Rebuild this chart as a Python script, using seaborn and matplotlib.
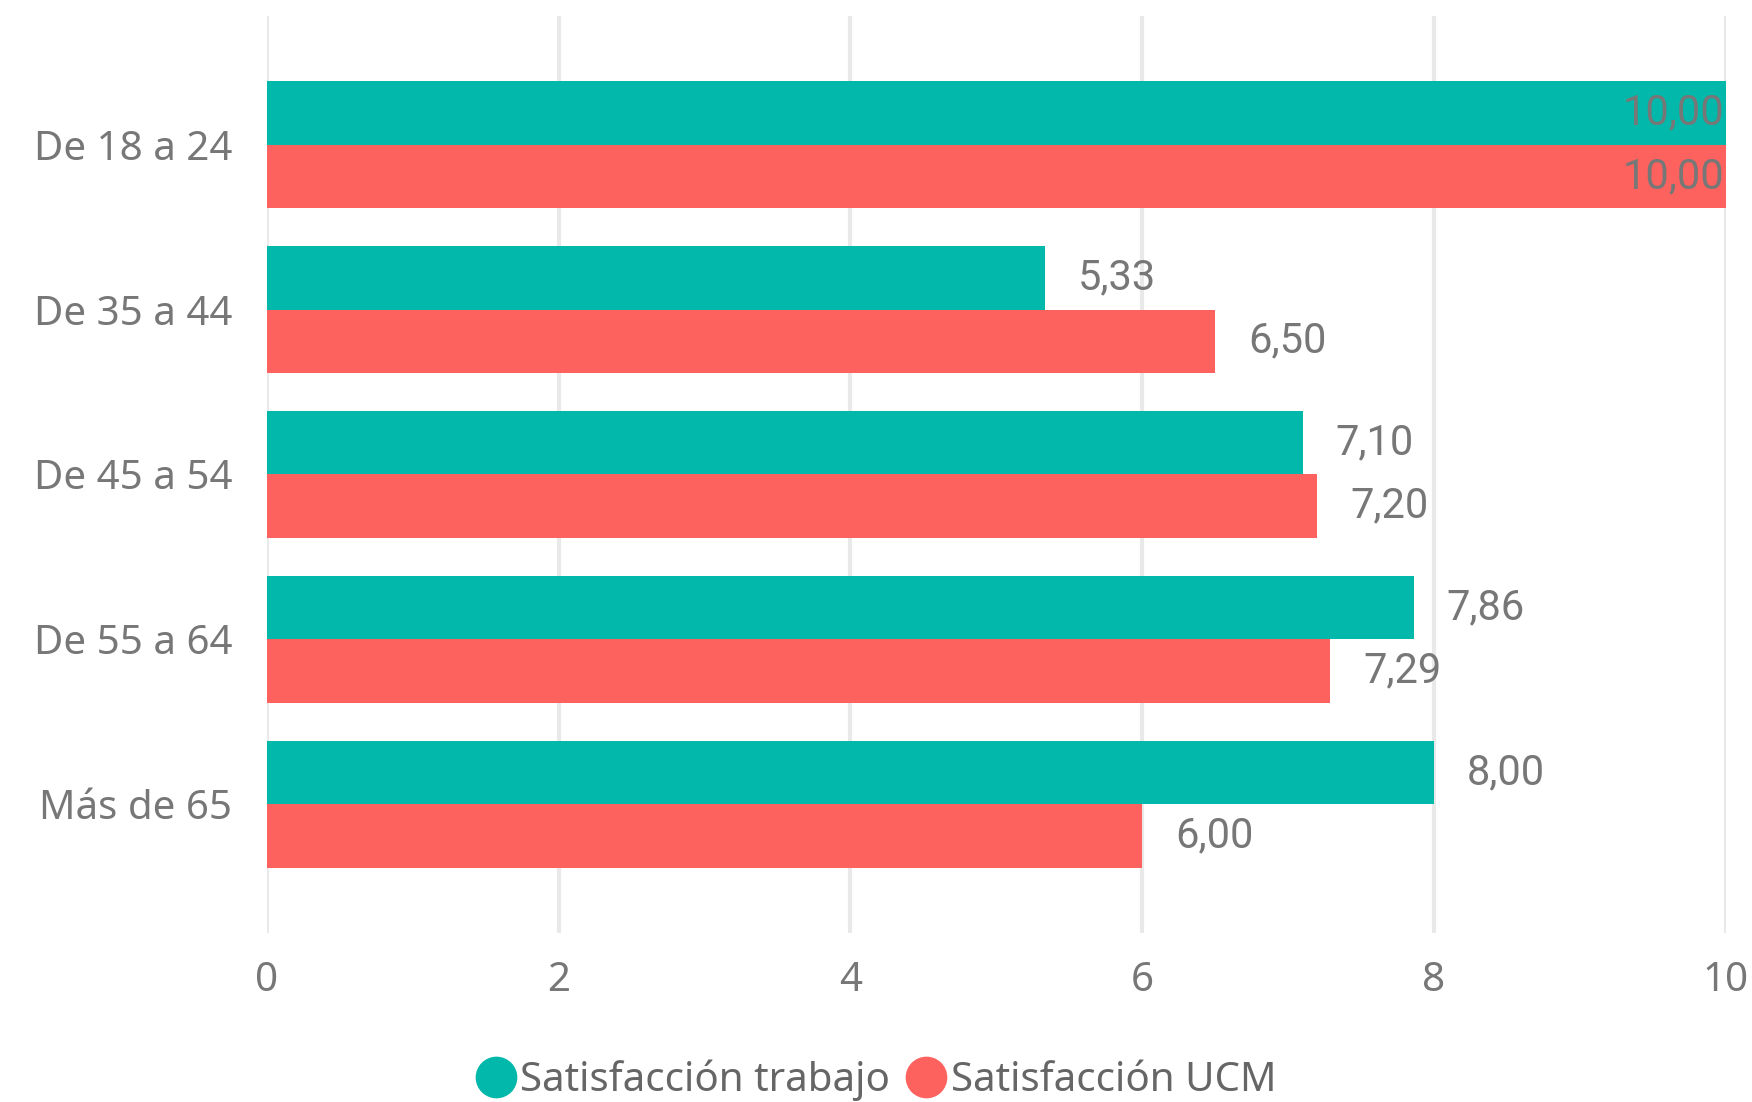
import pandas as pd
import seaborn as sns
import matplotlib.pyplot as plt
from matplotlib.lines import Line2D

# data
grupos = ["De 18 a 24", "De 35 a 44", "De 45 a 54", "De 55 a 64", "Más de 65"]
satisfaccion_trabajo = [10.00, 5.33, 7.10, 7.86, 8.00]
satisfaccion_ucm = [10.00, 6.50, 7.20, 7.29, 6.00]
series = ["Satisfacción trabajo", "Satisfacción UCM"]
xticks = [0, 2, 4, 6, 8, 10]

colores = ["#01B8AA", "#FD625E"]
gris = "#777777"

df = pd.DataFrame({
    "grupo": grupos * 2,
    "valor": satisfaccion_trabajo + satisfaccion_ucm,
    "serie": [series[0]] * len(grupos) + [series[1]] * len(grupos),
})

sns.set_style("white")
plt.rcParams["font.family"] = ["Noto Sans", "DejaVu Sans"]

fig = plt.figure(figsize=(17.52, 11.02), dpi=100)
ax = fig.add_axes([0.1524, 0.1534, 0.8326, 0.8321])

sns.barplot(data=df, y="grupo", x="valor", hue="serie", order=grupos,
            hue_order=series, palette=colores, orient="h", width=0.77,
            saturation=1, legend=False, linewidth=0, ax=ax)

ax.set_xlim(0, 10)
ax.set_ylim(4.78, -0.78)
ax.set_xticks(xticks)
ax.set_xticklabels([str(t) for t in xticks])
ax.grid(axis="x", color="#e9e9e9", linewidth=3)
ax.set_axisbelow(True)
for s in ax.spines.values():
    s.set_visible(False)
ax.tick_params(axis="both", length=0, labelsize=29, labelcolor=gris)
ax.tick_params(axis="y", pad=25)
ax.tick_params(axis="x", pad=20)
ax.set_xlabel("")
ax.set_ylabel("")

# etiquetas de datos con coma decimal
for cont in ax.containers:
    for p in cont:
        v = p.get_width()
        yc = p.get_y() + p.get_height() / 2
        txt = f"{v:.2f}".replace(".", ",")
        if v > 9.5:
            ax.text(v - 0.01, yc, txt, ha="right", va="center", fontsize=30,
                    color=gris, family=["Roboto", "DejaVu Sans"])
        else:
            ax.annotate(txt, (v, yc), xytext=(33, 0), textcoords="offset pixels",
                        ha="left", va="center", fontsize=30, color=gris,
                        family=["Roboto", "DejaVu Sans"])

handles = [Line2D([0], [0], marker="o", linestyle="", markersize=29,
                  markerfacecolor=c, markeredgecolor=c) for c in colores]
fig.legend(handles, series, loc="center", bbox_to_anchor=(0.5, 0.02), ncol=2,
           frameon=False, fontsize=29, labelcolor="#666666", handletextpad=0.1,
           columnspacing=0.4, handlelength=1.0)

plt.savefig("out.png", dpi=100)
